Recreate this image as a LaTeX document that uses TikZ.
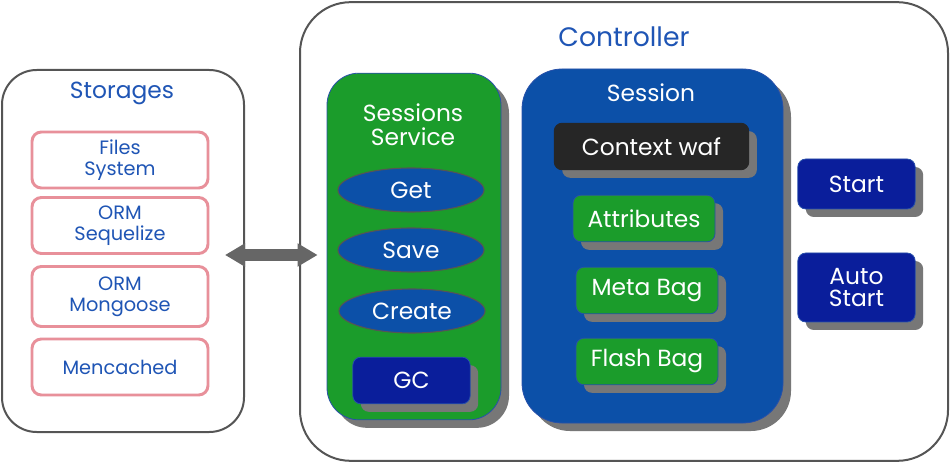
\documentclass[tikz,border=0pt]{standalone}
\usepackage{fontspec}
\setmainfont{Poppins}
\usetikzlibrary{shapes.geometric,shadows,arrows.meta}
\definecolor{StoreBlue}{RGB}{31,85,181}
\definecolor{PinkLine}{RGB}{232,144,154}
\definecolor{FrameGray}{RGB}{85,85,85}
\definecolor{ShadowGray}{RGB}{119,119,119}
\definecolor{LinkGray}{RGB}{102,102,102}
\definecolor{LeafGreen}{RGB}{27,156,43}
\definecolor{SessBlue}{RGB}{12,80,168}
\definecolor{NavyBlue}{RGB}{10,30,155}
\definecolor{EdgeBlue}{RGB}{40,80,170}
\definecolor{InkBlack}{RGB}{38,38,38}

\begin{document}
\begin{tikzpicture}[x=0.75pt,y=-0.75pt,
    frame/.style={draw=FrameGray,line width=1.5pt,fill=white},
    title/.style={text=StoreBlue,font=\fontsize{17.5}{19}\selectfont},
    store/.style={draw=PinkLine,line width=2.2pt,rounded corners=7pt,fill=white,text=StoreBlue,align=center,
        minimum width=132pt,minimum height=42pt,font=\fontsize{14.5}{16}\selectfont},
    shd/.style={general shadow={fill=ShadowGray,shadow xshift=6pt,shadow yshift=-6pt}},
    leaf/.style={shd,draw=EdgeBlue,line width=0.6pt,fill=LeafGreen,text=white,rounded corners=6pt,
        minimum width=106.5pt,minimum height=35pt,font=\fontsize{17.5}{19}\selectfont},
    navy/.style={shd,draw=EdgeBlue,line width=0.6pt,fill=NavyBlue,text=white,rounded corners=6pt,align=center,
        minimum width=88pt,font=\fontsize{17.5}{19}\selectfont},
    action/.style={ellipse,draw=FrameGray,line width=0.8pt,fill=SessBlue,text=white,inner sep=0pt,
        minimum width=109.5pt,minimum height=33pt,font=\fontsize{17.5}{19}\selectfont}]
    \useasboundingbox (0,0) rectangle (950,463);

    % storages
    \node[frame,rounded corners=26pt,minimum width=181.5pt,minimum height=271.5pt] (storages) at (123,251) {};
    \node[title] (storagestitle) at (122,93) {Storages};
    \node[store] (files) at (120,160) {Files\\System};
    \node[store] (sequelize) at (120,225.5) {ORM\\Sequelize};
    \node[store,minimum height=45pt] (mongoose) at (120,296.5) {ORM\\Mongoose};
    \node[store] (memcache) at (120,367) {Mencached};

    % controller
    \node[frame,rounded corners=38pt,minimum width=486pt,minimum height=344pt] (controller) at (624,231.5) {};
    \node[title,font=\fontsize{20}{22}\selectfont] (controllertitle) at (624,37) {Controller};

    \node[shd,draw=EdgeBlue,line width=0.6pt,fill=LeafGreen,rounded corners=24pt,
        minimum width=130.5pt,minimum height=260pt] (service) at (414,246.5) {};
    \node[text=white,align=center,font=\fontsize{17.5}{18}\selectfont] (servicetitle) at (413,125) {Sessions\\Service};
    \node[action] (get) at (411,190) {Get};
    \node[action] (save) at (411,250) {Save};
    \node[action] (create) at (412,311) {Create};
    \node[navy,minimum height=35pt] (gc) at (411.5,380.5) {GC};

    \node[shd,draw=EdgeBlue,line width=0.6pt,fill=SessBlue,rounded corners=30pt,
        minimum width=195.75pt,minimum height=265.5pt] (session) at (652.5,246) {};
    \node[text=white,font=\fontsize{17.5}{19}\selectfont] (sessiontitle) at (651,93) {Session};
    \node[leaf,draw=InkBlack,fill=InkBlack,minimum width=146pt] (context) at (651.5,146.5) {Context waf};
    \node[leaf] (attributes) at (644,218.5) {Attributes};
    \node[leaf] (metabag) at (647,290.5) {Meta Bag};
    \node[leaf] (flashbag) at (647,361.5) {Flash Bag};

    \node[navy,minimum height=37.5pt] (start) at (856.5,184) {Start};
    \node[navy,minimum height=51.75pt] (autostart) at (856.5,287.5) {Auto\\[-3pt]Start};

    % link storages <-> service
    \coordinate (link) at (270,255);
    \draw[LinkGray,line width=9pt,{Triangle[length=15pt,width=16.5pt]}-{Triangle[length=15pt,width=16.5pt]},
        shorten <=-15pt,shorten >=6.75pt] (storages.east |- link) -- (service.west |- link);
\end{tikzpicture}
\end{document}
